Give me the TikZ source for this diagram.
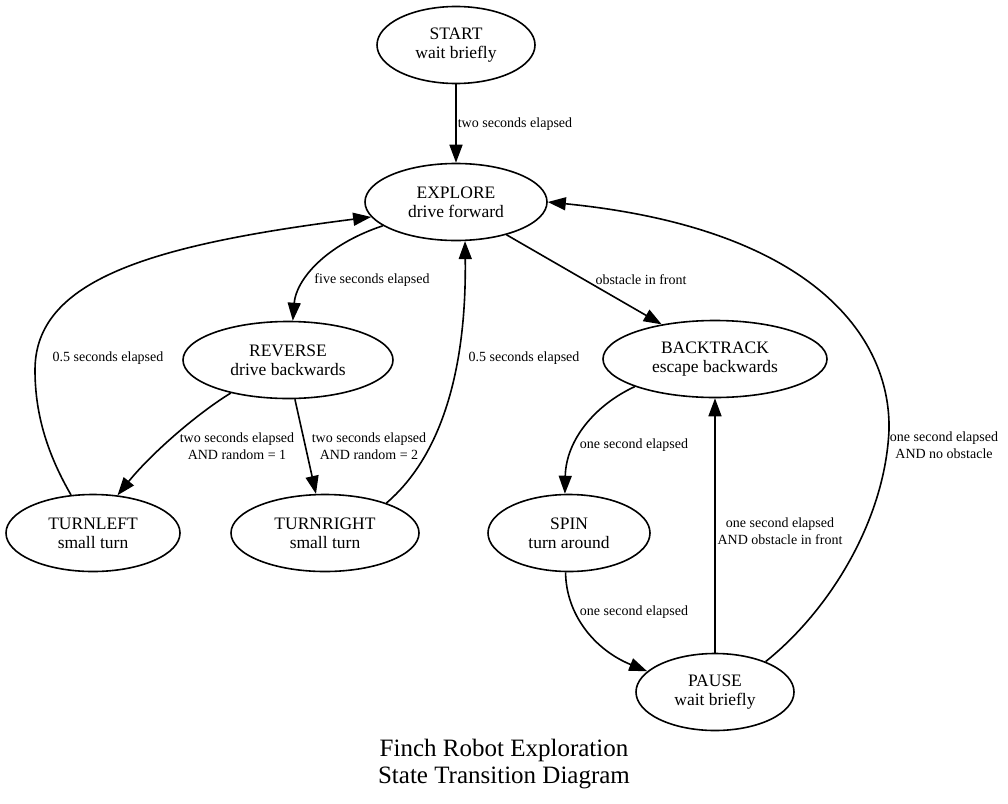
\documentclass[tikz,border=0pt]{standalone}
\usepackage{fontspec}
\setmainfont{Liberation Serif}
\usetikzlibrary{shapes.geometric,arrows.meta}
\begin{document}
\begin{tikzpicture}[x=1pt,y=-1pt,
  state/.style={draw, line width=1.6pt, ellipse, inner sep=0pt, minimum height=77pt, align=center, font=\fontsize{17.5}{19}\selectfont},
  edge/.style={line width=1.6pt, -{Triangle[length=18pt,width=13pt]}},
  elabel/.style={align=center, font=\fontsize{14}{17}\selectfont, inner sep=0pt},
  titlestyle/.style={align=center, font=\fontsize{25}{27}\selectfont, inner sep=0pt}]
\useasboundingbox (0,0) rectangle (1008,803);
\fill[white] (0,0) rectangle (1008,803);

\node[state, minimum width=158pt] (start) at (456,45) {START\\wait briefly};
\node[state, minimum width=182pt] (explore) at (456,202) {EXPLORE\\drive forward};
\node[state, minimum width=210pt] (reverse) at (288,360) {REVERSE\\drive backwards};
\node[state, minimum width=224pt] (backtrack) at (715,359) {BACKTRACK\\escape backwards};
\node[state, minimum width=174pt] (turnleft) at (93,533) {TURNLEFT\\small turn};
\node[state, minimum width=188pt] (turnright) at (325,533) {TURNRIGHT\\small turn};
\node[state, minimum width=162pt] (spin) at (569,533) {SPIN\\turn around};
\node[state, minimum width=158pt] (pause) at (715,692) {PAUSE\\wait briefly};

\draw[edge] (start.270) -- (explore.90);
\draw[edge] (explore.198) .. controls (325,245) and (296,280) .. (reverse.83);
\draw[edge] (turnleft.120) .. controls (45,450) and (35,410) .. (35,370) .. controls (35,280) and (150,245) .. (explore.190);
\draw[edge] (reverse.210) .. controls (195,415) and (150,455) .. (turnleft.57);
\draw[edge] (reverse.280) -- (turnright.103);
\draw[edge] (turnright.26) .. controls (460,440) and (466,320) .. (explore.283);
\draw[edge] (explore.327) -- (backtrack.147);
\draw[edge] (backtrack.199) .. controls (595,405) and (566,440) .. (spin.96);
\draw[edge] (pause.90) -- (backtrack.270);
\draw[edge] (spin.265) .. controls (566,615) and (595,650) .. (pause.163);
\draw[edge] (pause.31) .. controls (830,610) and (885,520) .. (889,430) .. controls (891,335) and (810,228) .. (explore.0);

\node[elabel] (l1) at (515,124) {two seconds elapsed};
\node[elabel] (l2) at (372,280) {five seconds elapsed};
\node[elabel] (l3) at (108,358) {0.5 seconds elapsed};
\node[elabel] (l4) at (524,358) {0.5 seconds elapsed};
\node[elabel] (l5) at (237,446) {two seconds elapsed\\AND random = 1};
\node[elabel] (l6) at (369,446) {two seconds elapsed\\AND random = 2};
\node[elabel] (l7) at (641,280) {obstacle in front};
\node[elabel] (l8) at (634,445) {one second elapsed};
\node[elabel] (l9) at (780,531) {one second elapsed\\AND obstacle in front};
\node[elabel] (l10) at (634,612) {one second elapsed};
\node[elabel] (l11) at (944,445) {one second elapsed\\AND no obstacle};

\node[titlestyle] (title) at (504,764) {Finch Robot Exploration\\State Transition Diagram};
\end{tikzpicture}
\end{document}
